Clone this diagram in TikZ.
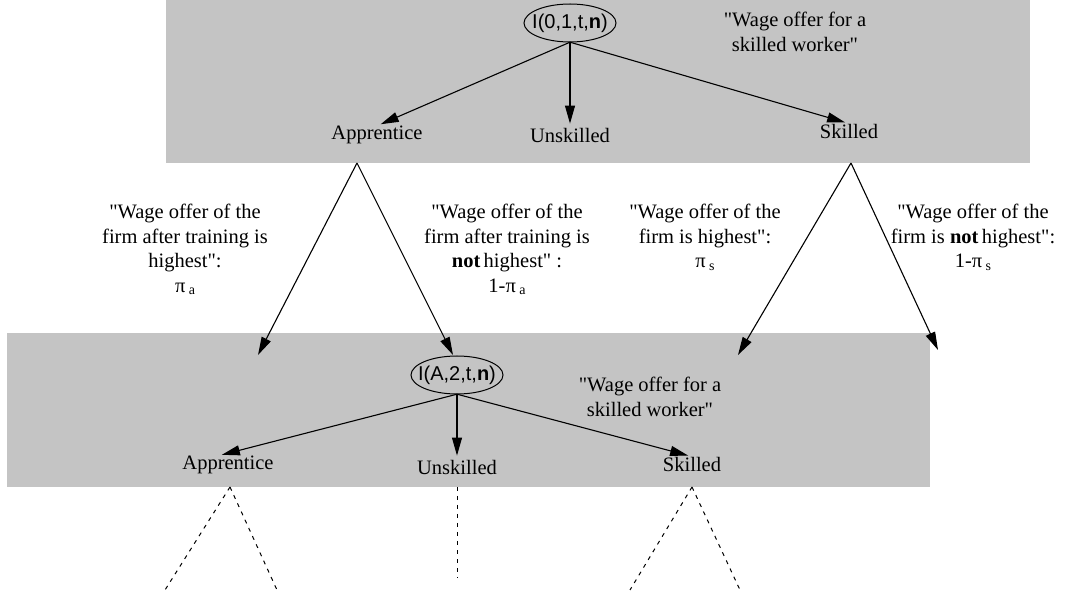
\documentclass[tikz,border=0pt]{standalone}
\usepackage{fontspec}
\setmainfont{Liberation Serif}[Ligatures=TeXOff]
\newfontfamily\lsans{Liberation Sans}[Ligatures=TeXOff]
\usetikzlibrary{arrows.meta,shapes.geometric}
\definecolor{boxgray}{RGB}{196,196,196}
\newcommand{\sbs}[1]{\,\raisebox{-0.3ex}{\fontsize{14}{14}\selectfont #1}}
\begin{document}
\begin{tikzpicture}[x=1pt,y=-1pt,
  lab/.style={font=\fontsize{20.5}{24}\selectfont, inner sep=0pt},
  elab/.style={font=\fontsize{20.5}{24.5}\selectfont, align=center, inner sep=0pt, anchor=north},
  st/.style={minimum width=92pt, minimum height=38pt, inner sep=0pt, font=\lsans\fontsize{20}{24}\selectfont},
  ell/.style={line width=1pt},
  arr/.style={-{Triangle[length=18pt,width=10pt]}, line width=1.1pt, shorten >=4pt},
  dsh/.style={dash pattern=on 4pt off 5pt, line width=1pt}]
\useasboundingbox (0,0) rectangle (1069,593);
\fill[boxgray] (166,0) rectangle (1030,163);
\fill[boxgray] (7,333) rectangle (930,487);

% top level
\node[st] (e1) at (570,23) {I(0,1,t,\textbf{n})};
\draw[ell] (e1.center) ellipse [x radius=46, y radius=19];
\node[lab] (a1) at (377,135) {Apprentice};
\node[lab] (u1) at (570,135) {Unskilled};
\node[lab] (s1) at (849,131) {Skilled};
\node[elab] (w1) at (795,12) {"Wage offer for a\\ skilled worker"};
\draw[arr] (e1.south) -- (a1.north);
\draw[arr] (e1.south) -- (u1.north);
\draw[arr] (e1.south) -- (s1.north);

% branches
\coordinate (ap1) at (357,163);
\coordinate (sk1) at (851,163);
\coordinate (t1) at (258,355);
\coordinate (t2) at (453,355);
\coordinate (t3) at (738,355);
\coordinate (t4) at (938,350);
\draw[arr,shorten >=0pt] (ap1) -- (t1);
\draw[arr,shorten >=0pt] (ap1) -- (t2);
\draw[arr,shorten >=0pt] (sk1) -- (t3);
\draw[arr,shorten >=0pt] (sk1) -- (t4);
\node[elab] (l1) at (185,204) {"Wage offer of the\\ firm after training is\\ highest":\\ π\sbs{a}};
\node[elab] (l2) at (507,204) {"Wage offer of the\\ firm after training is\\ \textbf{not}\,highest" :\\ 1-π\sbs{a}};
\node[elab] (l3) at (705,204) {"Wage offer of the\\ firm is highest":\\ π\sbs{s}};
\node[elab] (l4) at (973,204) {"Wage offer of the\\ firm is \textbf{not}\,highest":\\ 1-π\sbs{s}};

% bottom level
\node[st] (e2) at (457,375) {I(A,2,t,\textbf{n})};
\draw[ell] (e2.center) ellipse [x radius=46, y radius=19];
\node[lab] (a2) at (228,465) {Apprentice};
\node[lab] (u2) at (457,467) {Unskilled};
\node[lab] (s2) at (692,464) {Skilled};
\node[elab] (w2) at (650,377) {"Wage offer for a\\ skilled worker"};
\draw[arr] (e2.south) -- ([xshift=-10pt]a2.north);
\draw[arr] (e2.south) -- (u2.north);
\draw[arr] (e2.south) -- (s2.north);

\coordinate (ap2) at (230,487);
\coordinate (un2) at (457,487);
\coordinate (sk2) at (692,487);
\coordinate (d1) at (165,590);
\coordinate (d2) at (277,590);
\coordinate (d3) at (457,578);
\coordinate (d4) at (630,590);
\coordinate (d5) at (740,590);
\draw[dsh] (ap2) -- (d1);
\draw[dsh] (ap2) -- (d2);
\draw[dsh] (un2) -- (d3);
\draw[dsh] (sk2) -- (d4);
\draw[dsh] (sk2) -- (d5);
\end{tikzpicture}
\end{document}
